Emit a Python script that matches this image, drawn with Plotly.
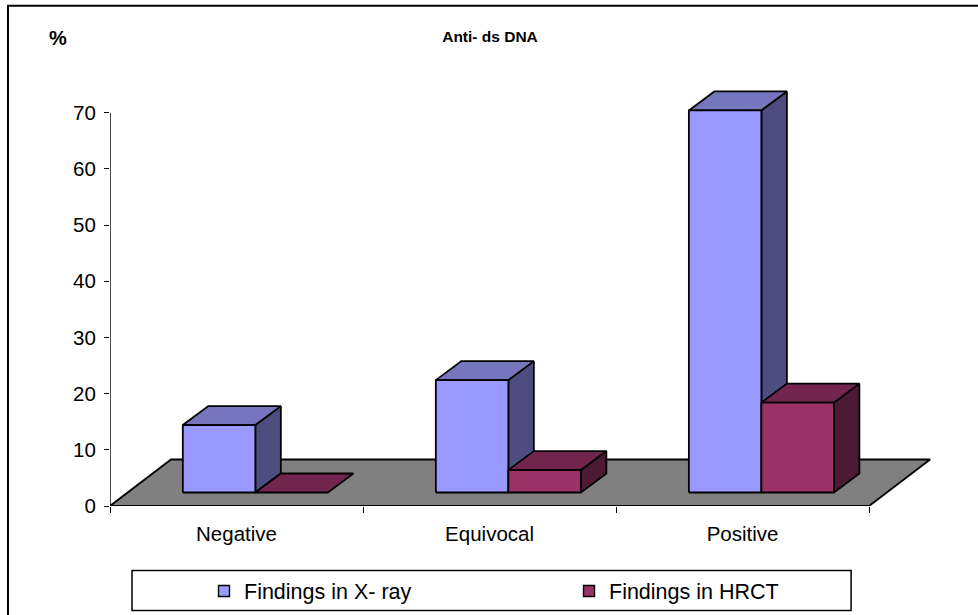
import plotly.graph_objects as go

categories = ["Negative", "Equivocal", "Positive"]
xray_values = [12, 20, 68]
hrct_values = [0, 4, 16]
y_ticks = [0, 10, 20, 30, 40, 50, 60, 70]

W, H = 978, 615
X0, Y0 = 110, 506.5      # pixel position of the chart origin
ux = 253                 # pixels per category
uy = 393.5 / 70          # pixels per value unit
X_MAX, Y_MAX = 3.3, 76   # room for the 3-D depth beyond the axes
L, B = X0, H - Y0
R = W - X0 - X_MAX * ux
T = Y0 - Y_MAX * uy
plot_w = X_MAX * ux
plot_h = Y_MAX * uy


def px_x(p):
    return p / ux


def px_y(p):
    return p / uy


def paper_x(p):
    return (p - L) / plot_w


def paper_y(p):
    return (Y0 - p) / plot_h


FLOOR_DX, FLOOR_DY = px_x(61), px_y(46.5)
FRONT_DX, FRONT_DY = px_x(18.8), px_y(13.5)
DEPTH_DX, DEPTH_DY = px_x(25.5), px_y(19)
BAR_W = px_x(72.5)
GAP = (1 - 2 * BAR_W) / 2

EDGE = dict(color="black", width=1.8)
COLORS = {
    "Findings in X- ray": ("#9999FF", "#7676BF", "#4D4D80"),
    "Findings in HRCT": ("#993366", "#73264D", "#4D1A33"),
}

fig = go.Figure()


def face(xs, ys, color):
    fig.add_trace(go.Scatter(
        x=xs + xs[:1], y=ys + ys[:1], mode="lines", fill="toself",
        fillcolor=color, line=EDGE, showlegend=False, hoverinfo="skip"))


# floor
face([0, 3, 3 + FLOOR_DX, FLOOR_DX], [0, 0, FLOOR_DY, FLOOR_DY], "#808080")


def bar(x0, value, colors):
    front, top, side = colors
    x1 = x0 + BAR_W
    y0 = FRONT_DY
    y1 = y0 + value
    if value > 0:
        face([x1, x1 + DEPTH_DX, x1 + DEPTH_DX, x1],
             [y0, y0 + DEPTH_DY, y1 + DEPTH_DY, y1], side)
    face([x0, x1, x1 + DEPTH_DX, x0 + DEPTH_DX],
         [y1, y1, y1 + DEPTH_DY, y1 + DEPTH_DY], top)
    if value > 0:
        face([x0, x1, x1, x0], [y0, y0, y1, y1], front)


for i in range(len(categories)):
    bx = i + GAP + FRONT_DX
    bar(bx, xray_values[i], COLORS["Findings in X- ray"])
    bar(bx + BAR_W, hrct_values[i], COLORS["Findings in HRCT"])

# axis lines stop at the last tick, before the depth room
fig.add_trace(go.Scatter(x=[0, 0], y=[0, max(y_ticks)], mode="lines",
                         line=dict(color="black", width=1.4),
                         showlegend=False, hoverinfo="skip"))
fig.add_trace(go.Scatter(x=[0, len(categories)], y=[0, 0], mode="lines",
                         line=dict(color="black", width=1.8),
                         showlegend=False, hoverinfo="skip", cliponaxis=False))

# legend entries
for name, cols in COLORS.items():
    fig.add_trace(go.Scatter(
        x=[None], y=[None], mode="markers", name=name,
        marker=dict(symbol="square", size=11, color=cols[0],
                    line=dict(color="black", width=1.4))))

fig.update_layout(
    width=W, height=H, autosize=False,
    margin=dict(l=L, r=R, t=T, b=B),
    paper_bgcolor="white", plot_bgcolor="rgba(0,0,0,0)",
    font=dict(family="Liberation Sans, Arial, sans-serif", color="black", size=20),
    title=dict(text="<b>Anti- ds DNA</b>", font=dict(size=15.5),
               x=490 / W, xanchor="center", y=1 - 37 / H, yanchor="middle"),
    xaxis=dict(
        range=[0, X_MAX], tickmode="array",
        tickvals=[i + 0.5 for i in range(3)], ticktext=categories,
        ticks="outside", ticklen=0, ticklabelstandoff=9,
        tickfont=dict(size=20.5),
        minor=dict(tickmode="array", tickvals=[0, 1, 2, 3], ticks="outside",
                   ticklen=6, tickwidth=1.4, tickcolor="black"),
        showgrid=False, zeroline=False, showline=False),
    yaxis=dict(
        range=[0, Y_MAX], tickmode="array", tickvals=y_ticks,
        ticks="outside", ticklen=5, tickwidth=1.4, tickcolor="black",
        ticklabelstandoff=4, tickfont=dict(size=20.5),
        showgrid=False, zeroline=False, showline=False),
    showlegend=True,
    legend=dict(orientation="h", x=204 / W, y=1 - 591 / H, xanchor="left",
                yanchor="middle", xref="container", yref="container",
                bgcolor="rgba(0,0,0,0)", font=dict(size=21.5),
                entrywidth=320, entrywidthmode="pixels", borderwidth=0),
    annotations=[dict(text="<b>%</b>", x=paper_x(58), y=paper_y(38), xref="paper",
                      yref="paper", xanchor="center", yanchor="middle",
                      showarrow=False, font=dict(size=20))],
    shapes=[
        dict(type="rect", xref="paper", yref="paper", layer="below",
             x0=paper_x(8), x1=paper_x(1000), y0=paper_y(640), y1=paper_y(6),
             line=dict(color="black", width=2)),
        dict(type="rect", xref="paper", yref="paper", layer="below",
             x0=paper_x(132), x1=paper_x(851), y0=paper_y(611), y1=paper_y(571),
             line=dict(color="black", width=1.5)),
    ],
)

fig.write_html("out.html", config=dict(displayModeBar=False),
               post_script="document.body.style.margin='0';document.body.style.overflow='hidden';")
